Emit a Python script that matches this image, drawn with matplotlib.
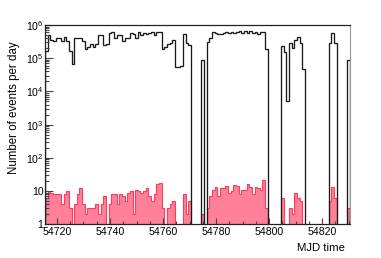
import numpy as np
import matplotlib
matplotlib.use('Agg')
import matplotlib.pyplot as plt
from matplotlib.ticker import FixedLocator, LogLocator, MultipleLocator, NullFormatter

plt.rcParams.update({'font.family': 'Liberation Sans', 'font.size': 7.6,
                     'mathtext.fontset': 'custom', 'mathtext.rm': 'Liberation Sans',
                     'mathtext.it': 'Liberation Sans', 'mathtext.bf': 'Liberation Sans'})

# one bin per MJD day, starting at day 54716
first_day = 54716

# all events per day, in thousands (0 = no data)
all_events_k = [
    160, 500, 350, 320, 420, 400, 330, 450, 330, 170,
    66, 400, 420, 400, 320, 195, 220, 275, 220, 275,
    500, 500, 245, 275, 560, 630, 400, 500, 500, 320,
    400, 400, 560, 520, 420, 600, 500, 560, 520, 560,
    630, 500, 630, 630, 195, 220, 275, 280, 350, 55,
    55, 60, 520, 280, 250, 0, 0, 0, 0, 87,
    0, 300, 420, 600, 560, 520, 540, 560, 600, 560,
    630, 560, 630, 650, 560, 650, 560, 650, 560, 630,
    520, 630, 630, 185, 0, 0, 0, 0, 0, 230,
    150, 5, 280, 200, 350, 430, 280, 46, 0, 0,
    0, 0, 0, 0, 0, 0, 0, 280, 590, 280,
    0, 0, 0, 0, 90,
]

# selected events per day
selected_events = [
    6, 10, 9, 8, 8, 8, 4, 8, 10, 3,
    0, 4, 8, 12, 4, 2, 3, 3, 3, 4,
    2, 4, 7, 0, 4, 8, 8, 4, 8, 7,
    5, 9, 10, 2, 11, 10, 9, 10, 12, 7,
    5, 8, 16, 18, 3, 0, 3, 4, 5, 0,
    0, 0, 8, 2, 5, 0, 0, 0, 0, 2,
    0, 3, 7, 11, 13, 7, 12, 12, 14, 9,
    10, 15, 14, 8, 11, 11, 16, 13, 8, 13,
    12, 11, 22, 3, 0, 0, 0, 0, 0, 6,
    0, 0, 3, 2, 9, 6, 5, 0, 0, 0,
    0, 0, 0, 0, 0, 0, 0, 5, 13, 6,
    0, 0, 0, 0, 3,
]

x_ticks = [54720, 54740, 54760, 54780, 54800, 54820]
y_ticks = [1, 10, 1e2, 1e3, 1e4, 1e5, 1e6]
y_labels = ['1', '10', '$10^{2}$', '$10^{3}$', '$10^{4}$', '$10^{5}$', '$10^{6}$']

days = np.arange(first_day, first_day + len(all_events_k))
edges = np.append(days - 0.5, days[-1] + 0.5)

allev = np.array(all_events_k, dtype=float) * 1000
sel = np.array(selected_events, dtype=float)
# empty bins go below the log axis
allev = np.where(allev > 0, allev, 1e-2)
sel = np.where(sel > 0, sel, 1e-2)

fig = plt.figure(figsize=(3.81, 2.58), dpi=100)
ax = fig.add_axes([45/381, 1 - 224.3/258, 305/381, (224.3 - 25)/258])

ax.stairs(sel, edges, baseline=1e-2, fill=True, color='#ff8097', lw=0)
ax.stairs(sel, edges, baseline=1e-2, color='#ff3a5c', lw=0.8)
ax.stairs(allev, edges, baseline=1e-2, color='#1a1a1a', lw=0.95)

ax.set_yscale('log')
ax.set_ylim(1, 1e6)
ax.set_xlim(edges[0], edges[-1])

ax.yaxis.set_major_locator(FixedLocator(y_ticks))
ax.set_yticklabels(y_labels)
ax.yaxis.set_minor_locator(LogLocator(base=10, subs=np.arange(2, 10)))
ax.yaxis.set_minor_formatter(NullFormatter())
ax.xaxis.set_major_locator(FixedLocator(x_ticks))
ax.set_xticklabels([str(t) for t in x_ticks])
ax.xaxis.set_minor_locator(MultipleLocator(5))

ax.tick_params(which='both', direction='in', top=False, right=False,
               color='#444444', width=0.8)
ax.tick_params(axis='y', which='major', length=5.8, pad=1.2)
ax.tick_params(axis='y', which='minor', length=2.9)
ax.tick_params(axis='x', which='major', length=4.3, pad=2.0)
ax.tick_params(axis='x', which='minor', length=2.2)

for s in ['left', 'top', 'bottom']:
    ax.spines[s].set_color('#222222')
    ax.spines[s].set_linewidth(0.9)
ax.spines['right'].set_color('#999999')

fig.text(14/381, 1 - 41/258, 'Number of events per day', rotation=90,
         ha='center', va='top', fontsize=8.3)
fig.text(345/381, 1 - 251/258, 'MJD time', ha='right', va='baseline',
         fontsize=8.2)

fig.savefig('out.png', dpi=100)
